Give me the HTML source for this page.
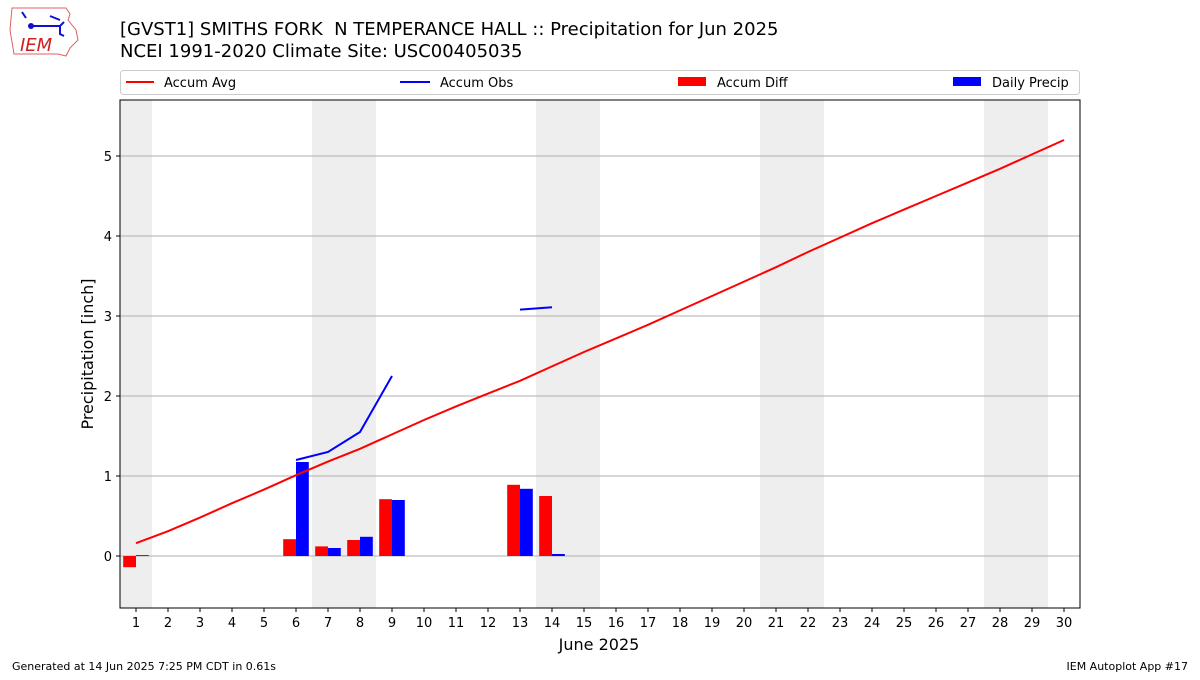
<!DOCTYPE html>
<html><head><meta charset="utf-8"><style>
body{margin:0;background:#fff;font-family:"Liberation Sans","DejaVu Sans",sans-serif}
svg text{font-family:"DejaVu Sans","Liberation Sans",sans-serif;white-space:pre}
</style></head><body>
<svg id="c" width="1200" height="675" xmlns="http://www.w3.org/2000/svg">
<g>
<path d="M12,8 L66,8 L70,14 L68,20 L76,30 L78,40 L70,48 L66,56 L58,54 L14,54 L10,30 Z" fill="none" stroke="#e06060" stroke-width="1"/>
<path d="M22,12 L26,18 M30,26 L60,26 L64,22 M50,16 L60,20 M60,26 L60,34 L64,36" stroke="#1010d0" stroke-width="2" fill="none"/>
<circle cx="31" cy="26" r="3" fill="#1010d0"/>
<text x="20" y="51" font-size="18" font-style="italic" fill="#d02020" font-family="Liberation Serif,serif">IEM</text>
</g>
<text x="120" y="35" font-size="18" fill="#000" xml:space="preserve">[GVST1] SMITHS FORK  N TEMPERANCE HALL :: Precipitation for Jun 2025</text>
<text x="120" y="57" font-size="18" fill="#000">NCEI 1991-2020 Climate Site: USC00405035</text>
<g>
<rect x="120.5" y="70.5" width="959" height="24" rx="3" fill="#fff" stroke="#ccc"/>
<g><line x1="126" y1="82" x2="154" y2="82" stroke="red" stroke-width="2"/><text x="164" y="87" font-size="13">Accum Avg</text></g>
<g><line x1="400" y1="82" x2="430" y2="82" stroke="blue" stroke-width="2"/><text x="440" y="87" font-size="13">Accum Obs</text></g>
<g><rect x="678" y="77" width="28" height="9" fill="red"/><text x="717" y="87" font-size="13">Accum Diff</text></g>
<g><rect x="953" y="77" width="28" height="9" fill="blue"/><text x="992" y="87" font-size="13">Daily Precip</text></g>
</g>
<g id="plot"></g>
<text x="599" y="650" font-size="16" text-anchor="middle">June 2025</text>
<text transform="translate(93,354) rotate(-90)" font-size="16" text-anchor="middle">Precipitation [inch]</text>
<text x="12" y="670" font-size="11">Generated at 14 Jun 2025 7:25 PM CDT in 0.61s</text>
<text x="1188" y="670" font-size="11" text-anchor="end">IEM Autoplot App #17</text>
</svg>
<script>
const days=[1,2,3,4,5,6,7,8,9,10,11,12,13,14,15,16,17,18,19,20,21,22,23,24,25,26,27,28,29,30];
const accumAvg=[0.16,0.31,0.48,0.66,0.83,1.01,1.18,1.34,1.52,1.70,1.87,2.03,2.19,2.37,2.55,2.72,2.89,3.07,3.25,3.43,3.61,3.80,3.98,4.16,4.33,4.50,4.67,4.84,5.02,5.20];
const accumObs=[0.02,null,null,null,null,1.20,1.30,1.55,2.25,null,null,null,3.08,3.11];
const accumDiff=[-0.14,null,null,null,null,0.21,0.12,0.20,0.71,null,null,null,0.89,0.75];
const dailyPrecip=[0.01,null,null,null,null,1.175,0.10,0.24,0.70,null,null,null,0.84,0.025];
const weekendDays=[1,7,8,14,15,21,22,28,29];
const yTicks=[0,1,2,3,4,5];
const NS="http://www.w3.org/2000/svg";
const X0=120,X1=1080,Y0=100,Y1=608,XMIN=0.5,XMAX=30.5,YMIN=-0.65,YMAX=5.7;
const xs=v=>X0+(v-XMIN)/(XMAX-XMIN)*(X1-X0);
const ys=v=>Y1-(v-YMIN)/(YMAX-YMIN)*(Y1-Y0);
const g=document.getElementById('plot');
function mk(t,a){const e=document.createElementNS(NS,t);for(const k in a)e.setAttribute(k,a[k]);g.appendChild(e);return e;}
weekendDays.forEach(d=>{const e=mk('rect',{x:xs(d-0.5),y:Y0,width:xs(d+0.5)-xs(d-0.5),height:Y1-Y0,fill:'#eeeeee'});

});
yTicks.forEach(v=>{const l=mk('line',{x1:X0,x2:X1,y1:ys(v),y2:ys(v),stroke:'#b0b0b0','stroke-width':1});


mk('line',{x1:X0-4,x2:X0,y1:ys(v),y2:ys(v),stroke:'#000'});
const t=mk('text',{x:X0-8,y:ys(v)+5,'font-size':13,'text-anchor':'end'});t.textContent=v;

});
const bw=xs(1.4)-xs(1);
accumDiff.forEach((v,i)=>{if(v==null)return;const d=days[i];const r=mk('rect',{x:xs(d)-bw,y:Math.min(ys(v),ys(0)),width:bw,height:Math.abs(ys(v)-ys(0)),fill:'red'});

});
dailyPrecip.forEach((v,i)=>{if(v==null)return;const d=days[i];const r=mk('rect',{x:xs(d),y:Math.min(ys(v),ys(0)),width:bw,height:Math.abs(ys(v)-ys(0)),fill:'blue'});

});
const avgPts=accumAvg.map((v,i)=>xs(days[i])+','+ys(v)).join(' ');
const la=mk('polyline',{points:avgPts,fill:'none',stroke:'red','stroke-width':2});


let seg=[];const segs=[];accumObs.forEach((v,i)=>{if(v==null){if(seg.length)segs.push(seg);seg=[];}else seg.push(xs(days[i])+','+ys(v));});if(seg.length)segs.push(seg);
segs.forEach(s=>{if(s.length<2)return;const p=mk('polyline',{points:s.join(' '),fill:'none',stroke:'blue','stroke-width':2});

});
mk('rect',{x:X0,y:Y0,width:X1-X0,height:Y1-Y0,fill:'none',stroke:'#000','stroke-width':1});
days.forEach(d=>{mk('line',{x1:xs(d),x2:xs(d),y1:Y1,y2:Y1+4,stroke:'#000'});
const t=mk('text',{x:xs(d),y:Y1+19,'font-size':13,'text-anchor':'middle'});t.textContent=d;

});
</script>
</body></html>
